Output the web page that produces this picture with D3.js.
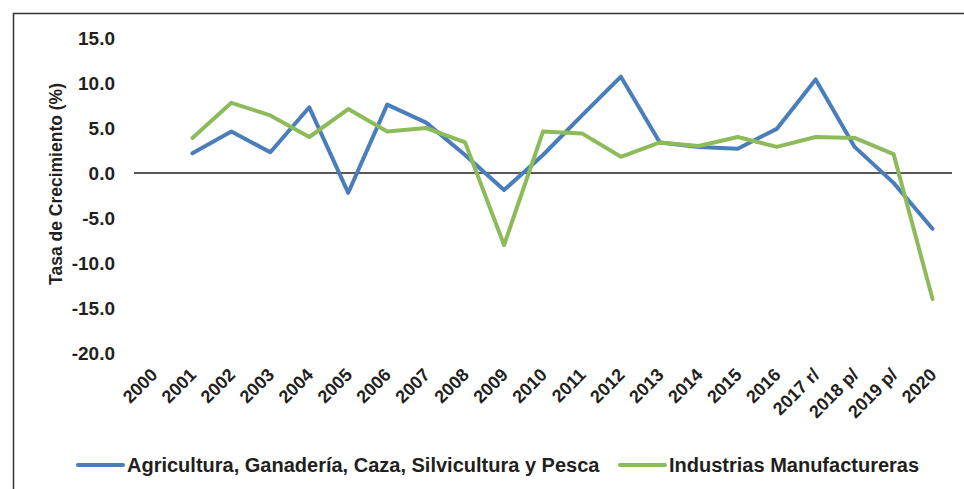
<!DOCTYPE html>
<html>
<head>
<meta charset="utf-8">
<script src="https://cdn.jsdelivr.net/npm/d3@7"></script>
<style>
  body { margin: 0; background: #fff; }
  text { font-family: "Liberation Sans", Arial, sans-serif; font-weight: bold; fill: #231f20; }
</style>
</head>
<body>
<div id="chart"></div>
<script>
// categories shown on the x axis
const years = ["2000", "2001", "2002", "2003", "2004", "2005", "2006", "2007", "2008", "2009", "2010",
  "2011", "2012", "2013", "2014", "2015", "2016", "2017 r/", "2018 p/", "2019 p/", "2020"];
// growth rates start in 2001
const seriesYears = years.slice(1);
const agricultura = [2.2, 4.6, 2.3, 7.3, -2.2, 7.6, 5.6, 2.0, -1.9, 2.0, 6.4, 10.7, 3.4, 2.9, 2.7, 4.9, 10.4, 2.9, -1.1, -6.2];
const industrias = [3.9, 7.8, 6.4, 4.0, 7.1, 4.6, 5.0, 3.4, -8.0, 4.6, 4.4, 1.8, 3.4, 3.0, 4.0, 2.9, 4.0, 3.9, 2.1, -14.0];
const yTicks = [15, 10, 5, 0, -5, -10, -15, -20];
const seriesNames = ["Agricultura, Ganadería, Caza, Silvicultura y Pesca", "Industrias Manufactureras"];
const colors = ["#4a7ebb", "#8dbb5a"];

/**
 * set the dimensions of the page
 */
function graphDimensions() {
    const W = 964, H = 489;
    const plot = {left: 134, right: 952, top: 38, bottom: 353};
    return [W, H, plot];
}

function appendToDom(W, H) {
    return d3.select("#chart").append("svg")
        .attr("width", W)
        .attr("height", H);
}

function drawFrame(svg, W, H) {
    svg.append("path")
        .attr("d", "M13.5," + H + "V13.5H" + W)
        .attr("fill", "none")
        .attr("stroke", "#333")
        .attr("stroke-width", 1.5);
}

function drawYAxis(svg, y, plot) {
    svg.append("g")
        .attr("transform", "translate(" + (plot.left - 19) + ",0)")
        .call(d3.axisLeft(y).tickValues(yTicks).tickSize(0).tickPadding(0)
            .tickFormat(d => d.toFixed(1)))
        .call(g => g.select(".domain").remove())
        .call(g => g.selectAll("text")
            .style("font-size", "19px")
            .style("font-family", "Liberation Sans, Arial, sans-serif")
            .style("font-weight", "bold")
            .attr("fill", "#231f20"));
}

function drawXAxis(svg, x, y, plot) {
    // zero line
    svg.append("line")
        .attr("x1", plot.left).attr("x2", plot.right)
        .attr("y1", y(0)).attr("y2", y(0))
        .attr("stroke", "#231f20")
        .attr("stroke-width", 1.5);

    svg.append("g")
        .selectAll("text")
        .data(years)
        .enter()
        .append("text")
        .attr("text-anchor", "end")
        .style("font-size", "18px")
        .attr("transform", d => "translate(" + (x(d) + x.bandwidth() / 2 + 5) + "," + (plot.bottom + 23) + ")rotate(-45)")
        .text(d => d);
}

function labelYName(svg, plot) {
    svg.append("text")
        .attr("text-anchor", "middle")
        .style("font-size", "17.5px")
        .attr("transform", "translate(62,184)rotate(-90)")
        .text("Tasa de Crecimiento (%)");
}

function drawLines(svg, x, y) {
    const line = d3.line()
        .x((d, i) => x(seriesYears[i]) + x.bandwidth() / 2)
        .y(d => y(d));
    [agricultura, industrias].forEach((data, i) => {
        svg.append("path")
            .datum(data)
            .attr("fill", "none")
            .attr("stroke", colors[i])
            .attr("stroke-width", 4)
            .attr("stroke-linejoin", "round")
            .attr("stroke-linecap", "round")
            .attr("d", line);
    });
}

function drawLegend(svg) {
    const starts = [78, 620];
    seriesNames.forEach((name, i) => {
        const g = svg.append("g").attr("transform", "translate(" + starts[i] + ",465)");
        g.append("line")
            .attr("x1", 0).attr("x2", 45)
            .attr("stroke", colors[i])
            .attr("stroke-width", 4)
            .attr("stroke-linecap", "round");
        g.append("text")
            .attr("x", 49)
            .attr("y", 7)
            .style("font-size", "20px")
            .text(name);
    });
}

function drawGraph() {
    const [W, H, plot] = graphDimensions();
    const svg = appendToDom(W, H);
    const x = d3.scaleBand().domain(years).range([plot.left, plot.right]);
    const y = d3.scaleLinear().domain([-20, 15]).range([plot.bottom, plot.top]);
    drawFrame(svg, W, H);
    drawYAxis(svg, y, plot);
    drawXAxis(svg, x, y, plot);
    labelYName(svg, plot);
    drawLines(svg, x, y);
    drawLegend(svg);
}

drawGraph();
</script>
</body>
</html>
